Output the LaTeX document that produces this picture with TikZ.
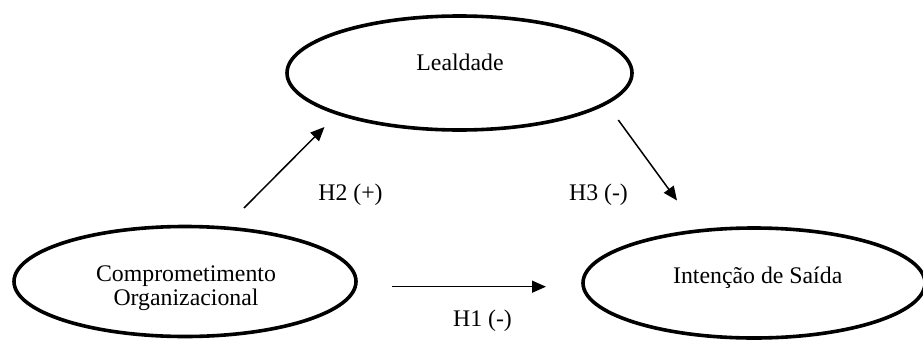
\documentclass[tikz,border=0pt]{standalone}
\usepackage{fontspec}
\setmainfont{Liberation Serif}
\usetikzlibrary{shapes.geometric,arrows.meta}
\begin{document}
\begin{tikzpicture}[x=1pt,y=-1pt,
  construct/.style={ellipse,draw,line width=3.6pt,inner sep=0pt},
  txt/.style={anchor=base,inner sep=0pt,font=\fontsize{23.8}{24}\selectfont},
  path/.style={line width=1.5pt,-{Triangle[length=14pt,width=12pt]}}]
\useasboundingbox (0,0) rectangle (923,343);
% constructs
\node[construct,minimum width=345pt,minimum height=114pt] (leal) at (459.5,73) {};
\node[construct,minimum width=342pt,minimum height=110pt] (comp) at (185,281.5) {};
\node[construct,minimum width=342pt,minimum height=110pt] (inte) at (754,283) {};
% texts
\node[txt] (tleal) at (460,70.7) {Lealdade};
\node[txt] (tcompa) at (186,281) {Comprometimento};
\node[txt] (tcompb) at (186,305) {Organizacional};
\node[txt] (tinte) at (757.7,283) {Intenção de Saída};
% connector ends
\coordinate (h2s) at (244,208);
\coordinate (h2e) at (324.5,127);
\coordinate (h3s) at (618.3,120);
\coordinate (h3e) at (677,200.5);
\coordinate (h1s) at (392,286.7);
\coordinate (h1e) at (546,286.7);
\draw[path] (h2s) -- (h2e);
\draw[path] (h3s) -- (h3e);
\draw[path] (h1s) -- (h1e);
% labels
\node[txt] (lh2) at (350.5,200.7) {H2 (+)};
\node[txt] (lh3) at (598.5,200.7) {H3 (-)};
\node[txt] (lh1) at (482.5,326) {H1 (-)};
\end{tikzpicture}
\end{document}
